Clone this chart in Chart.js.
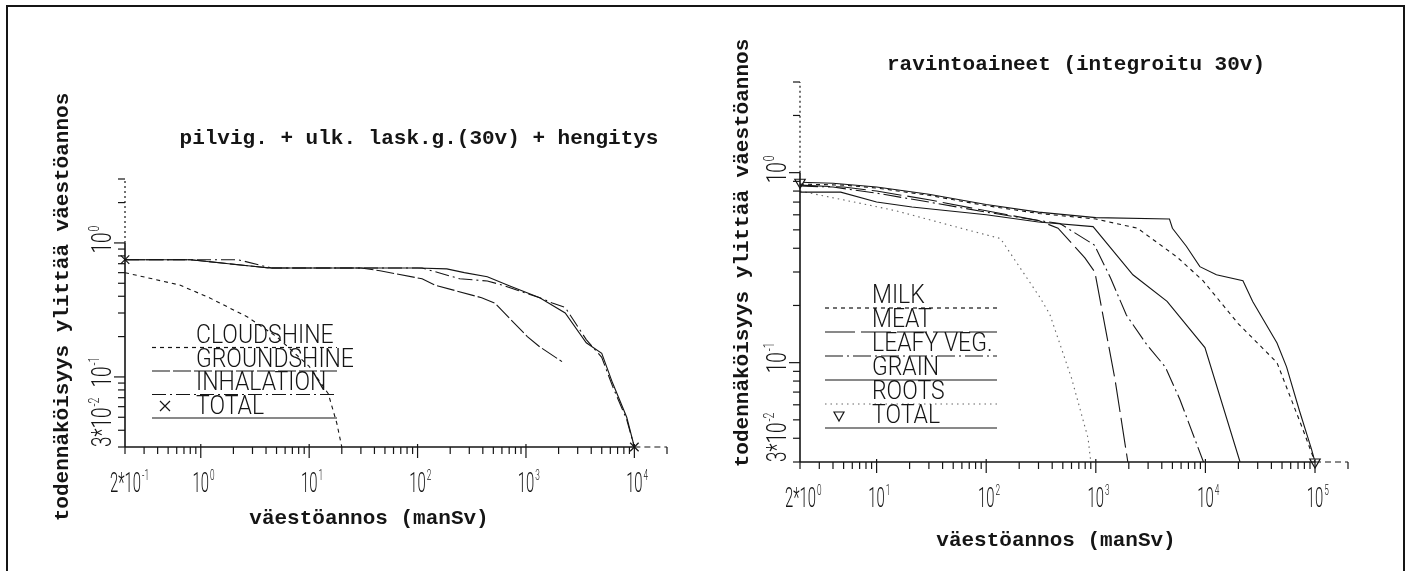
<!DOCTYPE html>
<html>
<head>
<meta charset="utf-8">
<script src="https://cdn.jsdelivr.net/npm/chart.js@4.4.1/dist/chart.umd.min.js"></script>
<style>
  html, body { margin: 0; padding: 0; background: #fff; }
  #page { position: relative; width: 1407px; height: 571px; overflow: hidden; background: #fff; }
  #page canvas { position: absolute; left: 0; top: 0; }
  #frame { position: absolute; left: 6px; top: 5px; width: 1395px; height: 620px; border: 2px solid #151515; }
</style>
</head>
<body>
<div id="page">
  <div id="frame"></div>
  <canvas id="leftChart" width="1407" height="571"></canvas>
  <canvas id="rightChart" width="1407" height="571"></canvas>
</div>
<script>
const INK = '#151515';

// ---- left panel: cloudshine + groundshine + inhalation ----
const leftXRange = [0.2, 20000];
const leftYRange = [0.03, 3];
const leftXLabels = [0.2, 1, 10, 100, 1000, 10000];
const leftYLabels = [0.03, 0.1, 1];

const cloudDose = [0.2, 0.64, 1.2, 2.7, 5, 10, 15, 18, 20];
const cloudProb = [0.6, 0.485, 0.39, 0.28, 0.2, 0.12, 0.075, 0.045, 0.03];

const groundDose = [0.2, 0.8, 4.3, 30, 45, 110, 144, 390, 515, 1030, 1350, 2150];
const groundProb = [0.75, 0.75, 0.65, 0.65, 0.62, 0.54, 0.485, 0.39, 0.356, 0.2, 0.167, 0.13];

const inhalDose = [0.2, 2.2, 4.5, 110, 245, 440, 575, 1340, 1750, 2300, 3600, 5000, 6300, 8500, 10000];
const inhalProb = [0.75, 0.75, 0.65, 0.65, 0.54, 0.52, 0.49, 0.39, 0.356, 0.33, 0.19, 0.14, 0.085, 0.048, 0.03];

const leftTotalDose = [0.2, 0.8, 4.3, 100, 186, 270, 440, 700, 1340, 2300, 3600, 5000, 6300, 8500, 10000];
const leftTotalProb = [0.75, 0.75, 0.65, 0.65, 0.64, 0.6, 0.56, 0.48, 0.39, 0.3, 0.18, 0.15, 0.09, 0.05, 0.03];

// ---- right panel: ravintoaineet ----
const rightXRange = [2, 200000];
const rightYRange = [0.03, 3];
const rightXLabels = [2, 10, 100, 1000, 10000, 100000];
const rightYLabels = [0.03, 0.1, 1];

const milkDose = [2, 5, 10, 30, 100, 300, 1000, 2400, 5500, 9500, 20000, 45000, 77000, 100000];
const milkProb = [0.87, 0.86, 0.83, 0.76, 0.67, 0.61, 0.57, 0.51, 0.36, 0.27, 0.16, 0.1, 0.045, 0.03];

const meatDose = [2, 5, 10, 30, 100, 300, 452, 795, 980, 1500, 1960];
const meatProb = [0.86, 0.84, 0.8, 0.72, 0.63, 0.56, 0.51, 0.356, 0.3, 0.081, 0.03];

const leafyDose = [2, 4, 10, 30, 100, 300, 470, 970, 1360, 1900, 2930, 4300, 5850, 9600];
const leafyProb = [0.85, 0.84, 0.78, 0.7, 0.62, 0.56, 0.54, 0.416, 0.28, 0.178, 0.124, 0.095, 0.064, 0.03];

const grainDose = [2, 4.7, 10, 21, 100, 300, 944, 2180, 4470, 9900, 20700];
const grainProb = [0.79, 0.79, 0.7, 0.66, 0.6, 0.55, 0.52, 0.29, 0.21, 0.12, 0.03];

const rootsDose = [2, 8, 15, 67, 135, 310, 380, 600, 850, 900];
const rootsProb = [0.8, 0.68, 0.63, 0.5, 0.45, 0.22, 0.18, 0.083, 0.04, 0.03];

const rightTotalDose = [2, 4, 10, 30, 100, 300, 1000, 4700, 5000, 6700, 8900, 12600, 22000, 27000, 45000, 55000, 72000, 93000, 100000];
const rightTotalProb = [0.89, 0.88, 0.84, 0.77, 0.68, 0.62, 0.58, 0.57, 0.51, 0.41, 0.32, 0.29, 0.27, 0.21, 0.127, 0.095, 0.056, 0.035, 0.03];

// ---- helpers ----
function pts(xs, ys) {
  return xs.map((x, i) => ({ x: x, y: ys[i] }));
}

function series(label, xs, ys, dash, extra) {
  return Object.assign({
    label: label,
    data: pts(xs, ys),
    borderColor: INK,
    borderWidth: 1.1,
    borderDash: dash,
    pointRadius: 0,
    fill: false,
    tension: 0
  }, extra || {});
}

// marker only on the first and last point of a curve
function endMarker(style, rotation) {
  return {
    pointStyle: style,
    rotation: rotation || 0,
    pointRadius: ctx => (ctx.dataIndex === 0 || ctx.dataIndex === ctx.dataset.data.length - 1) ? 6 : 0,
    pointBorderColor: INK,
    pointBackgroundColor: '#fff',
    pointBorderWidth: 1.2,
    clip: 10
  };
}

function logValues(min, max) {
  const out = [];
  for (let e = Math.floor(Math.log10(min)); e <= Math.ceil(Math.log10(max)); e++) {
    for (let m = 1; m <= 9; m++) {
      const v = m * Math.pow(10, e);
      if (v >= min * 0.999 && v <= max * 1.001) out.push(v);
    }
  }
  return out;
}

function isDecade(v) {
  const l = Math.log10(v);
  return Math.abs(l - Math.round(l)) < 1e-6;
}

function seg(ctx, x1, y1, x2, y2) {
  ctx.beginPath();
  ctx.moveTo(x1, y1);
  ctx.lineTo(x2, y2);
  ctx.stroke();
}

const TICK_FONT = '300 27px Roboto, "Liberation Sans", sans-serif';
const SUP_FONT = '300 15px Roboto, "Liberation Sans", sans-serif';
const LEGEND_FONT = '300 25px Roboto, "Liberation Sans", sans-serif';
const MONO_FONT = 'bold 21px "Liberation Mono", "DejaVu Sans Mono", monospace';

// draws "m*10^e" in the local frame; anchor is the centre of "10" or the start of the text
function drawPower(ctx, v, anchor, sx) {
  const e = Math.round(Math.log10(v));
  const m = Math.round(v / Math.pow(10, e));
  const pre = m === 1 ? '' : m + '*';
  ctx.font = TICK_FONT;
  const wPre = ctx.measureText(pre).width * sx;
  const wTen = ctx.measureText('10').width * sx;
  const x0 = anchor === 'start' ? 0 : -wPre - wTen / 2;
  ctx.save();
  ctx.translate(x0, 0);
  ctx.scale(sx, 1);
  ctx.fillText(pre + '10', 0, 0);
  ctx.restore();
  ctx.save();
  ctx.font = SUP_FONT;
  ctx.translate(x0 + wPre + wTen + 1, -12);
  ctx.scale(sx, 1);
  ctx.fillText(String(e), 0, 0);
  ctx.restore();
}

function drawMarker(ctx, style, x, y) {
  ctx.beginPath();
  if (style === 'cross') {
    ctx.moveTo(x - 5, y - 5); ctx.lineTo(x + 5, y + 5);
    ctx.moveTo(x + 5, y - 5); ctx.lineTo(x - 5, y + 5);
  } else {
    ctx.moveTo(x - 5, y - 4); ctx.lineTo(x + 5, y - 4); ctx.lineTo(x, y + 5); ctx.closePath();
  }
  ctx.stroke();
}

// axes, ticks, labels, titles and the legend of one panel
const plotFrame = {
  id: 'plotFrame',
  afterDatasetsDraw(chart, args, o) {
    const { ctx, chartArea: a } = chart;
    const xs = chart.scales.x, ys = chart.scales.y;
    ctx.save();
    ctx.strokeStyle = INK;
    ctx.fillStyle = INK;

    // axis lines, dotted / dashed beyond the last decade
    const ySolid = ys.getPixelForValue(o.ySolidTo);
    const xSolid = xs.getPixelForValue(o.xSolidTo);
    ctx.lineWidth = 1.6;
    seg(ctx, a.left, a.bottom, a.left, ySolid);
    seg(ctx, a.left, a.bottom, xSolid, a.bottom);
    ctx.lineWidth = 1.2;
    ctx.setLineDash([2, 3]);
    seg(ctx, a.left, ySolid, a.left, a.top);
    ctx.setLineDash([6, 4]);
    seg(ctx, xSolid, a.bottom, a.right, a.bottom);
    ctx.setLineDash([]);

    // tick marks
    logValues(xs.min, xs.max).forEach(v => {
      const p = xs.getPixelForValue(v);
      seg(ctx, p, a.bottom - (isDecade(v) ? 3 : 0), p, a.bottom + (isDecade(v) ? 11 : 7));
    });
    logValues(ys.min, ys.max).forEach(v => {
      const p = ys.getPixelForValue(v);
      seg(ctx, a.left, p, a.left - (isDecade(v) ? 11 : 7), p);
    });

    // tick labels
    ctx.textBaseline = 'alphabetic';
    o.xLabels.forEach((v, i) => {
      ctx.save();
      if (i === 0) ctx.translate(a.left - 15, a.bottom + 45);
      else ctx.translate(xs.getPixelForValue(v), a.bottom + 45);
      drawPower(ctx, v, i === 0 ? 'start' : 'centre', 0.55);
      ctx.restore();
    });
    o.yLabels.forEach((v, i) => {
      ctx.save();
      ctx.translate(a.left - 14, i === 0 ? a.bottom : ys.getPixelForValue(v));
      ctx.rotate(-Math.PI / 2);
      drawPower(ctx, v, i === 0 ? 'start' : 'centre', 0.7);
      ctx.restore();
    });

    // titles
    ctx.font = MONO_FONT;
    ctx.textAlign = 'center';
    ctx.textBaseline = 'middle';
    ctx.fillText(o.title, o.titleAt[0], o.titleAt[1]);
    ctx.fillText('väestöannos (manSv)', o.xTitleAt[0], o.xTitleAt[1]);
    ctx.save();
    ctx.translate(o.yTitleAt[0], o.yTitleAt[1]);
    ctx.rotate(-Math.PI / 2);
    ctx.fillText('todennäköisyys ylittää väestöannos', 0, 0);
    ctx.restore();

    // legend: label above its line sample
    const L = o.legend;
    ctx.textAlign = 'left';
    ctx.textBaseline = 'alphabetic';
    chart.data.datasets.forEach((ds, i) => {
      const ly = a.bottom - L.firstLine + i * L.step;
      ctx.save();
      ctx.font = LEGEND_FONT;
      ctx.translate(a.left + L.textAt, ly - L.textGap);
      ctx.scale(0.92, 1);
      ctx.fillText(ds.label, 0, 0);
      ctx.restore();
      ctx.lineWidth = 1.2;
      ctx.strokeStyle = ds.borderColor;
      ctx.setLineDash(ds.borderDash || []);
      seg(ctx, a.left + L.lineFrom, ly, a.left + L.lineTo, ly);
      ctx.setLineDash([]);
      ctx.strokeStyle = INK;
      if (ds.legendMarker) {
        drawMarker(ctx, ds.legendMarker, a.left + L.markerAt, ly - 12);
      }
    });
    ctx.restore();
  }
};

function makeChart(id, datasets, xr, yr, pad, frameOpts) {
  return new Chart(document.getElementById(id), {
    type: 'line',
    data: { datasets: datasets },
    options: {
      responsive: false,
      animation: false,
      events: [],
      layout: { padding: pad },
      scales: {
        x: { type: 'logarithmic', min: xr[0], max: xr[1], display: false },
        y: { type: 'logarithmic', min: yr[0], max: yr[1], display: false }
      },
      plugins: {
        legend: { display: false },
        tooltip: { enabled: false },
        plotFrame: frameOpts
      }
    },
    plugins: [plotFrame]
  });
}

makeChart('leftChart', [
  series('CLOUDSHINE', cloudDose, cloudProb, [4, 4]),
  series('GROUNDSHINE', groundDose, groundProb, [18, 3]),
  series('INHALATION', inhalDose, inhalProb, [14, 4, 2, 4]),
  series('TOTAL', leftTotalDose, leftTotalProb, [], Object.assign(endMarker('crossRot'), { legendMarker: 'cross' }))
], leftXRange, leftYRange, { left: 125, top: 179, right: 740, bottom: 124 }, {
  title: 'pilvig. + ulk. lask.g.(30v) + hengitys',
  titleAt: [419, 139],
  xTitleAt: [369, 519],
  yTitleAt: [63, 307],
  xLabels: leftXLabels,
  yLabels: leftYLabels,
  xSolidTo: 10000,
  ySolidTo: 1,
  legend: { firstLine: 99.5, step: 23.5, lineFrom: 27, lineTo: 212, textAt: 71, textGap: 4.5, markerAt: 40 }
});

makeChart('rightChart', [
  series('MILK', milkDose, milkProb, [4, 4]),
  series('MEAT', meatDose, meatProb, [30, 6]),
  series('LEAFY VEG.', leafyDose, leafyProb, [18, 4, 2, 4]),
  series('GRAIN', grainDose, grainProb, []),
  series('ROOTS', rootsDose, rootsProb, [1.5, 4], { borderColor: '#666' }),
  series('TOTAL', rightTotalDose, rightTotalProb, [], Object.assign(endMarker('triangle', 180), { legendMarker: 'triangle' }))
], rightXRange, rightYRange, { left: 800, top: 82, right: 59, bottom: 109 }, {
  title: 'ravintoaineet (integroitu 30v)',
  titleAt: [1076, 65],
  xTitleAt: [1056, 541],
  yTitleAt: [743, 253],
  xLabels: rightXLabels,
  yLabels: rightYLabels,
  xSolidTo: 100000,
  ySolidTo: 1,
  legend: { firstLine: 154, step: 24, lineFrom: 25, lineTo: 197, textAt: 72, textGap: 5, markerAt: 39 }
});
</script>
</body>
</html>
